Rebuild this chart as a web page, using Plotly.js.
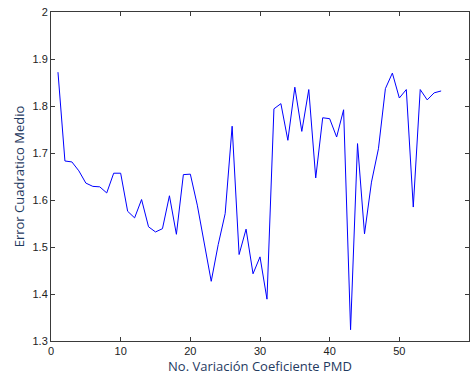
<!DOCTYPE html>
<html>
<head>
<meta charset="utf-8">
<script src="https://cdn.plot.ly/plotly-3.0.1.min.js"></script>
<style>html,body{margin:0;padding:0;background:#fff;}#chart{width:474px;height:383px;}</style>
</head>
<body>
<div id="chart"></div>
<script>
var xValues = [1,2,3,4,5,6,7,8,9,10,11,12,13,14,15,16,17,18,19,20,21,22,23,24,25,26,27,28,29,30,31,32,33,34,35,36,37,38,39,40,41,42,43,44,45,46,47,48,49,50,51,52,53,54,55,56];
var errorValues = [1.872,1.683,1.681,1.662,1.636,1.629,1.628,1.615,1.657,1.657,1.576,1.562,1.601,1.543,1.532,1.539,1.609,1.527,1.654,1.655,
  1.589,1.504,1.427,1.505,1.571,1.757,1.484,1.538,1.443,1.479,1.389,1.794,1.805,1.727,1.840,1.746,1.835,1.647,1.775,1.773,
  1.734,1.792,1.324,1.720,1.528,1.638,1.709,1.837,1.870,1.817,1.835,1.585,1.835,1.813,1.828,1.832];
var xTicks = [0,10,20,30,40,50,60];
var yTicks = [1.3,1.4,1.5,1.6,1.7,1.8,1.9,2];
var xTitle = 'No. Variación Coeficiente PMD';
var yTitle = 'Error Cuadratico Medio';

var trace = {x: xValues, y: errorValues, type: 'scatter', mode: 'lines',
  line: {color: '#0000ff', width: 1}, hoverinfo: 'skip'};

var axisCommon = {showgrid: false, zeroline: false, showline: true, mirror: 'ticks',
  linecolor: '#3a3a3a', linewidth: 1, ticks: 'inside', ticklen: 4, tickcolor: '#3a3a3a',
  tickfont: {family: 'Liberation Sans, Arial, sans-serif', size: 11, color: '#222'}};

var layout = {
  width: 474, height: 383,
  margin: {l: 51, r: 5, t: 12, b: 42},
  paper_bgcolor: '#fff', plot_bgcolor: '#fff',
  showlegend: false,
  xaxis: Object.assign({}, axisCommon, {range: [0, 60], tickvals: xTicks, ticktext: xTicks.map(String),
    title: {text: xTitle, standoff: 5, font: {family: 'Open Sans, Noto Sans, sans-serif', size: 13, color: '#1f3a5f'}}}),
  yaxis: Object.assign({}, axisCommon, {range: [1.3, 2], tickvals: yTicks, ticktext: yTicks.map(function(v){return String(v);}),
    title: {text: yTitle, standoff: 4, font: {family: 'Open Sans, Noto Sans, sans-serif', size: 13, color: '#1f3a5f'}}})
};
Plotly.newPlot('chart', [trace], layout, {displayModeBar: false, staticPlot: true});
</script>
</body>
</html>
